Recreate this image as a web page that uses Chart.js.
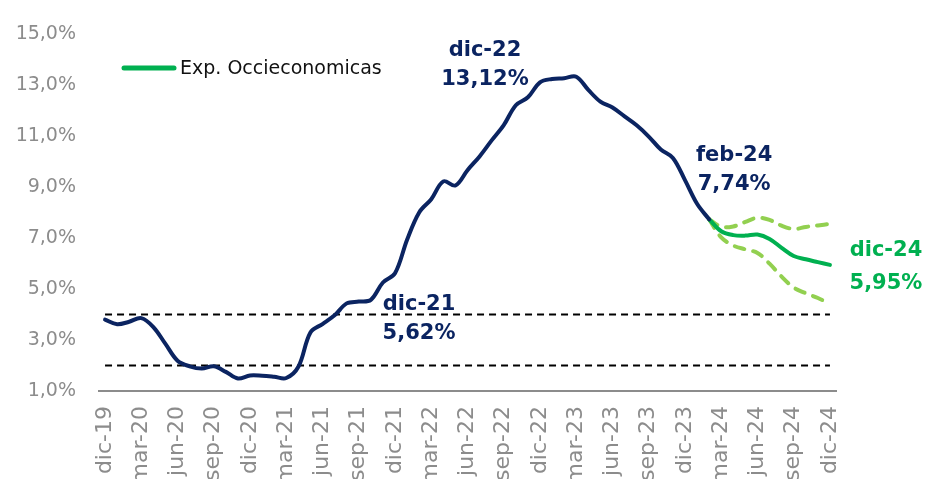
<!DOCTYPE html>
<html>
<head>
<meta charset="utf-8">
<script src="https://cdn.jsdelivr.net/npm/chart.js@4.4.1/dist/chart.umd.min.js"></script>
<style>
    html, body { margin: 0; padding: 0; background: #ffffff; overflow: hidden; }
</style>
</head>
<body>
<canvas id="inflation-chart" width="926" height="479"></canvas>
<script>
// months dic-19 .. dic-24
let months = [
    "dic-19",
    "ene-20", "feb-20", "mar-20", "abr-20", "may-20", "jun-20", "jul-20", "ago-20", "sep-20", "oct-20", "nov-20", "dic-20",
    "ene-21", "feb-21", "mar-21", "abr-21", "may-21", "jun-21", "jul-21", "ago-21", "sep-21", "oct-21", "nov-21", "dic-21",
    "ene-22", "feb-22", "mar-22", "abr-22", "may-22", "jun-22", "jul-22", "ago-22", "sep-22", "oct-22", "nov-22", "dic-22",
    "ene-23", "feb-23", "mar-23", "abr-23", "may-23", "jun-23", "jul-23", "ago-23", "sep-23", "oct-23", "nov-23", "dic-23",
    "ene-24", "feb-24", "mar-24", "abr-24", "may-24", "jun-24", "jul-24", "ago-24", "sep-24", "oct-24", "nov-24", "dic-24",
];

// observed inflation, dic-19 .. feb-24
let inflation = [
    3.80,
    3.62, 3.72, 3.86, 3.51, 2.85, 2.19, 1.97, 1.88, 1.97, 1.75, 1.49, 1.61,
    1.60, 1.56, 1.51, 1.95, 3.30, 3.63, 3.97, 4.44, 4.51, 4.58, 5.26, 5.62,
    6.94, 8.01, 8.53, 9.23, 9.07, 9.67, 10.21, 10.84, 11.44, 12.22, 12.53, 13.12,
    13.25, 13.28, 13.34, 12.82, 12.36, 12.13, 11.78, 11.43, 10.99, 10.48, 10.15, 9.28,
    8.35, 7.74,
];

// forecast, feb-24 .. dic-24
let forecastMid = [7.74, 7.27, 7.12, 7.10, 7.14, 6.97, 6.62, 6.30, 6.17, 6.06, 5.95];
let forecastHigh = [7.74, 7.45, 7.46, 7.64, 7.80, 7.72, 7.49, 7.36, 7.44, 7.50, 7.56];
let forecastLow = [7.74, 7.03, 6.71, 6.56, 6.42, 6.00, 5.49, 5.06, 4.84, 4.65, 4.42];

// target band
let bandLow = 2;
let bandHigh = 4;

let yTicks = [1, 3, 5, 7, 9, 11, 13, 15];

let noteMonths = ["dic-21", "dic-22", "feb-24", "dic-24"];

let navy = "#0b2461";
let green = "#00b050";
let lightGreen = "#92d050";
let fontFamily = "'DejaVu Sans', sans-serif";

function padForecast(values) {
    let start = months.length - values.length;
    return months.map((m, i) => (i < start ? null : values[i - start]));
}

function pct(v) {
    return v.toFixed(2).replace(".", ",") + "%";
}

let notesPlugin = {
    id: "notes",
    afterDatasetsDraw(chart) {
        let ctx = chart.ctx;
        let x = chart.scales.x;
        let y = chart.scales.y;
        // offsets of the two text lines from the point they describe
        let place = {
            "dic-21": { dx: 24, dy: 37, gap: 29, color: navy, value: inflation[months.indexOf("dic-21")] },
            "dic-22": { dx: -55, dy: -26, gap: 29, color: navy, value: inflation[months.indexOf("dic-22")] },
            "feb-24": { dx: 25, dy: -58, gap: 29, color: navy, value: inflation[months.indexOf("feb-24")] },
            "dic-24": { dx: 56, dy: -9, gap: 33, color: green, value: forecastMid[forecastMid.length - 1] },
        };
        ctx.save();
        ctx.font = "bold 21px " + fontFamily;
        ctx.textAlign = "center";
        ctx.textBaseline = "alphabetic";
        noteMonths.forEach((m) => {
            let p = place[m];
            let px = x.getPixelForValue(months.indexOf(m));
            let py = y.getPixelForValue(p.value);
            ctx.fillStyle = p.color;
            ctx.fillText(m, px + p.dx, py + p.dy);
            ctx.fillText(pct(p.value), px + p.dx, py + p.dy + p.gap);
        });

        // legend
        ctx.strokeStyle = green;
        ctx.lineWidth = 5;
        ctx.lineCap = "round";
        ctx.beginPath();
        ctx.moveTo(124, 68);
        ctx.lineTo(174, 68);
        ctx.stroke();
        ctx.fillStyle = "#111111";
        ctx.font = "19px " + fontFamily;
        ctx.textAlign = "left";
        ctx.textBaseline = "middle";
        ctx.fillText("Exp. Occieconomicas", 180, 69);
        ctx.restore();
    },
};

let lineStyle = {
    fill: false,
    pointRadius: 0,
    tension: 0.35,
    borderWidth: 4,
    borderCapStyle: "round",
    borderJoinStyle: "round",
    spanGaps: false,
};

let inflationChart = new Chart(document.getElementById("inflation-chart"), {
    type: "line",
    data: {
        labels: months,
        datasets: [
            {
                ...lineStyle,
                label: "Inflación",
                borderColor: navy,
                data: inflation,
            },
            {
                ...lineStyle,
                label: "Exp. Occieconomicas",
                borderColor: green,
                data: padForecast(forecastMid),
            },
            {
                ...lineStyle,
                label: "Máx",
                borderColor: lightGreen,
                borderDash: [10, 9],
                data: padForecast(forecastHigh),
            },
            {
                ...lineStyle,
                label: "Mín",
                borderColor: lightGreen,
                borderDash: [10, 9],
                data: padForecast(forecastLow),
            },
            {
                label: "Techo",
                borderColor: "#000000",
                borderWidth: 2,
                borderDash: [7, 5],
                pointRadius: 0,
                data: [{ x: months[0], y: bandHigh }, { x: months[months.length - 1], y: bandHigh }],
            },
            {
                label: "Piso",
                borderColor: "#000000",
                borderWidth: 2,
                borderDash: [7, 5],
                pointRadius: 0,
                data: [{ x: months[0], y: bandLow }, { x: months[months.length - 1], y: bandLow }],
            },
        ],
    },
    options: {
        responsive: false,
        animation: false,
        layout: {
            padding: { top: 27, left: 0, right: 90, bottom: 0 },
        },
        scales: {
            x: {
                offset: true,
                grid: { display: false, drawTicks: false },
                border: { display: true, color: "#8c8c8c", width: 2 },
                ticks: {
                    autoSkip: false,
                    maxRotation: 90,
                    minRotation: 90,
                    padding: 15,
                    color: "#8c8c8c",
                    font: { family: fontFamily, size: 22 },
                    callback: function (value, index) {
                        return index % 3 === 0 ? months[index] : null;
                    },
                },
                afterFit: function (scale) {
                    scale.height = 88;
                },
            },
            y: {
                min: yTicks[0],
                max: yTicks[yTicks.length - 1],
                grid: { display: false, drawTicks: false },
                border: { display: false },
                afterBuildTicks: function (scale) {
                    scale.ticks = yTicks.map((v) => ({ value: v }));
                },
                ticks: {
                    padding: 23,
                    color: "#8c8c8c",
                    font: { family: fontFamily, size: 19 },
                    callback: function (value) {
                        return value.toFixed(1).replace(".", ",") + "%";
                    },
                },
                afterFit: function (scale) {
                    scale.width = 99;
                },
            },
        },
        plugins: {
            legend: { display: false },
            tooltip: { enabled: false },
        },
    },
    plugins: [notesPlugin],
});
</script>
</body>
</html>
